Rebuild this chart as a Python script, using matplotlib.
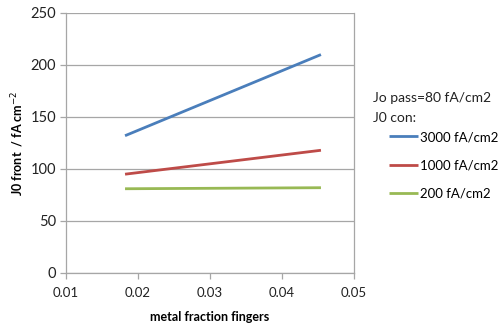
import numpy as np
import matplotlib.pyplot as plt

# =====================================================
# Data
# =====================================================

metal_fraction = [0.0182, 0.0454]

j0_3000 = [132, 210]
j0_1000 = [95, 118]
j0_200 = [81, 82]

labels = ['3000 fA/cm2', '1000 fA/cm2', '200 fA/cm2']
colors = ['#4A7EBB', '#BE4B48', '#98B954']

x_ticks = [0.01, 0.02, 0.03, 0.04, 0.05]
y_ticks = [0, 50, 100, 150, 200, 250]

# =====================================================
# Plot
# =====================================================

plt.rcParams['font.family'] = ['Lato', 'DejaVu Sans']

fig = plt.figure(figsize=(4.98, 3.28), dpi=100)
ax = fig.add_axes([0.1325, 0.1677, 0.5785, 0.7927])

for series, label, color in zip([j0_3000, j0_1000, j0_200], labels, colors):
    ax.plot(metal_fraction, series, color=color, linewidth=2, label=label,
            solid_capstyle='butt')

ax.set_xlim(0.01, 0.05)
ax.set_ylim(0, 250)
ax.set_xticks(x_ticks)
ax.set_yticks(y_ticks)
ax.set_xticklabels(['%.2f' % v for v in x_ticks])

ax.grid(axis='y', color='#A6A6A6', linewidth=0.9)
ax.set_axisbelow(True)

for side in ['left', 'bottom', 'right']:
    ax.spines[side].set_color('#A6A6A6')
    ax.spines[side].set_linewidth(0.9)
ax.spines['top'].set_visible(False)

ax.tick_params(axis='both', colors='#A6A6A6', labelcolor='#222222',
               length=4, width=0.9)
ax.tick_params(axis='x', pad=6, labelsize=9.5)
ax.tick_params(axis='y', pad=3, labelsize=10.5)

ax.set_xlabel('metal fraction fingers', fontsize=9, fontweight='bold', labelpad=9)
ax.set_ylabel('J0 front  / fA cm$^{-2}$', fontsize=9, fontweight='bold', labelpad=3)

# =====================================================
# Legend
# =====================================================

fig.text(373 / 498, 1 - 98 / 328, 'Jo pass=80 fA/cm2', fontsize=10,
         va='center', ha='left', color='#222222')
fig.text(373 / 498, 1 - 118 / 328, 'J0 con:', fontsize=10,
         va='center', ha='left', color='#222222')

ax.legend(loc='upper left', bbox_to_anchor=(389 / 498, 1 - 131 / 328),
          bbox_transform=fig.transFigure, frameon=False, fontsize=9.5,
          handlelength=2.2, handletextpad=0.15, labelspacing=1.25,
          borderpad=0, borderaxespad=0)

plt.savefig('out.png', dpi=100)
